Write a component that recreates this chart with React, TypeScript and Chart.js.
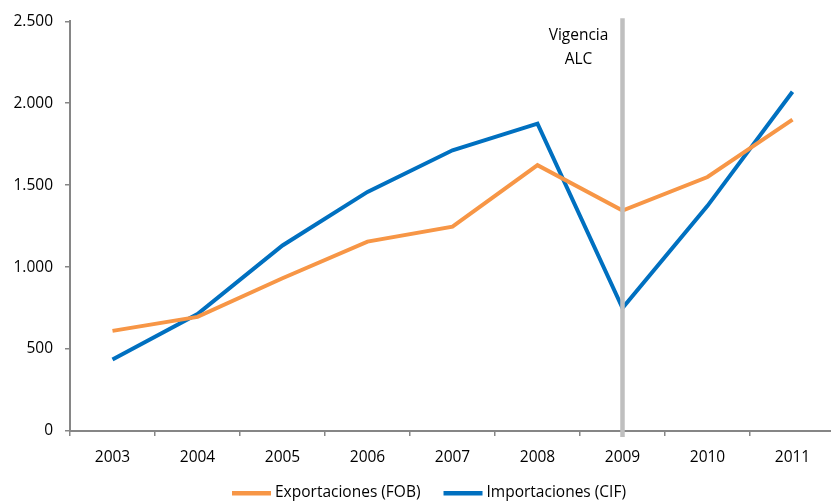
import React, { useEffect, useRef } from "react";
import { Chart, registerables } from "chart.js";

Chart.register(...registerables);

const categories = ["2003", "2004", "2005", "2006", "2007", "2008", "2009", "2010", "2011"];
const exportaciones = [611, 696, 932, 1156, 1247, 1622, 1345, 1550, 1900];
const importaciones = [436, 714, 1132, 1459, 1713, 1876, 750, 1374, 2070];
const markerCategory = "2009";
const markerLabel = ["Vigencia", "ALC"];

const FONT = "'Open Sans', 'Noto Sans', sans-serif";

const markerPlugin = {
  id: "markerLine",
  afterDatasetsDraw(chart: any) {
    const { ctx, scales, chartArea } = chart;
    const x = scales.x.getPixelForValue(categories.indexOf(markerCategory));
    ctx.save();
    ctx.strokeStyle = "#BFBFBF";
    ctx.lineWidth = 4.5;
    ctx.beginPath();
    ctx.moveTo(x, chartArea.top - 3);
    ctx.lineTo(x, chartArea.bottom + 6);
    ctx.stroke();
    ctx.fillStyle = "#000";
    ctx.font = `15.5px ${FONT}`;
    ctx.textAlign = "center";
    ctx.textBaseline = "middle";
    ctx.fillText(markerLabel[0], x - 44, 36);
    ctx.fillText(markerLabel[1], x - 44, 60);
    ctx.restore();
  },
};

const legendPlugin = {
  id: "customLegend",
  afterDraw(chart: any) {
    const { ctx, height } = chart;
    const datasets = chart.data.datasets;
    const swatch = 39;
    const gapText = 4;
    const gapItem = 23;
    ctx.save();
    ctx.font = `15.5px ${FONT}`;
    const widths = datasets.map((d: any) => swatch + gapText + ctx.measureText(d.label).width);
    const total = widths.reduce((a: number, b: number) => a + b, 0) + gapItem * (datasets.length - 1);
    let x = 429 - total / 2;
    const y = height - 10;
    datasets.forEach((d: any, i: number) => {
      ctx.fillStyle = d.borderColor;
      ctx.fillRect(x, y - 2, swatch, 4.5);
      ctx.fillStyle = "#000";
      ctx.textAlign = "left";
      ctx.textBaseline = "middle";
      ctx.fillText(d.label, x + swatch + gapText, y);
      x += widths[i] + gapItem;
    });
    ctx.restore();
  },
};

export default function App() {
  const ref = useRef<HTMLCanvasElement>(null);
  useEffect(() => {
    if (!ref.current) return;
    const chart = new Chart(ref.current, {
      type: "line",
      data: {
        labels: categories,
        datasets: [
          {
            label: "Exportaciones (FOB)",
            data: exportaciones,
            borderColor: "#F79646",
            backgroundColor: "#F79646",
            borderWidth: 4,
            pointRadius: 0,
            tension: 0,
          },
          {
            label: "Importaciones (CIF)",
            data: importaciones,
            borderColor: "#0070C0",
            backgroundColor: "#0070C0",
            borderWidth: 4,
            pointRadius: 0,
            tension: 0,
          },
        ],
      },
      options: {
        responsive: false,
        animation: false,
        layout: { padding: { top: 12, right: 0, left: 0, bottom: 35 } },
        plugins: {
          legend: { display: false },
          tooltip: { enabled: false },
        },
        scales: {
          x: {
            offset: true,
            grid: {
              display: true,
              offset: true,
              drawOnChartArea: false,
              drawTicks: true,
              tickLength: 5,
              color: "#868686",
              lineWidth: 1.5,
            },
            border: { display: true, color: "#868686", width: 2 },
            ticks: { color: "#000", font: { family: FONT, size: 15.5 }, padding: 12, maxRotation: 0 },
            afterFit: (s: any) => { s.height = 37; },
          },
          y: {
            min: 0,
            max: 2500,
            grid: {
              display: true,
              drawOnChartArea: false,
              drawTicks: true,
              tickLength: 5,
              color: "#868686",
              lineWidth: 1.5,
            },
            border: { display: true, color: "#868686", width: 2 },
            ticks: {
              stepSize: 500,
              color: "#000",
              font: { family: FONT, size: 15.5 },
              padding: 12,
              callback: (v: any) => Number(v).toLocaleString("de-DE"),
            },
            afterFit: (s: any) => { s.width = 70; },
          },
        },
      },
      plugins: [markerPlugin, legendPlugin],
    });
    return () => chart.destroy();
  }, []);
  return (
    <div style={{ position: "fixed", left: 0, top: 0, width: 831, height: 503, background: "#fff", overflow: "hidden" }}>
      <canvas ref={ref} width={835} height={503} style={{ width: 835, height: 503, display: "block" }} />
    </div>
  );
}
